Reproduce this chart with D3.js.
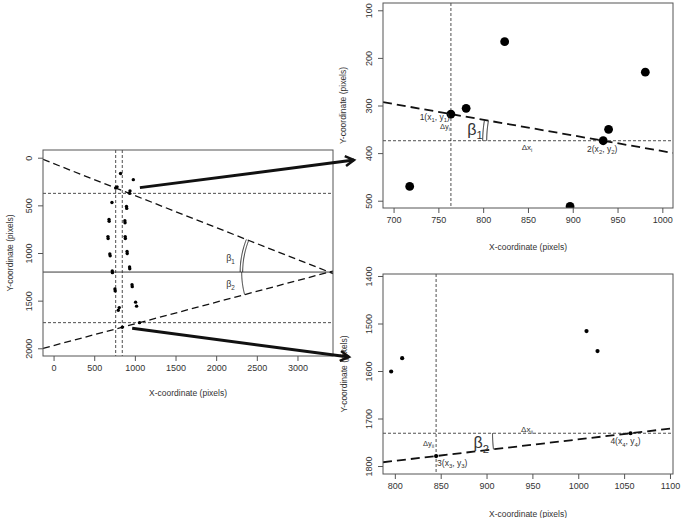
<!DOCTYPE html>
<html><head><meta charset="utf-8">
<script src="https://cdn.jsdelivr.net/npm/d3@7"></script>
<style>
body{margin:0;background:#fff}
text{font-family:"Liberation Sans",Arial,sans-serif;fill:#333}
</style>
</head><body>
<svg id="c" width="681" height="518"></svg>
<script>
// ---------- data (image pixel coordinates of detected points) ----------
const pointX = [824, 981, 764, 781, 940, 934, 718, 897, 900, 682, 684, 877, 879, 669, 671, 881, 883,
                692, 696, 904, 906, 722, 724, 935, 937, 755, 758, 965, 968, 796, 808, 1009, 1021, 845, 1057];
const pointY = [166, 230, 318, 306, 350, 374, 470, 512, 532, 648, 668, 662, 682, 828, 848, 828, 848,
                1010, 1030, 985, 1005, 1188, 1206, 1146, 1166, 1378, 1398, 1333, 1353, 1601, 1573, 1516, 1558, 1779, 1731];
// reference points 1..4 and the vanishing (apex) point
const refLabels = ["1", "2", "3", "4"];
const refX = [764, 934, 845, 1057];
const refY = [318, 374, 1779, 1731];
const apex = [3390, 1200];
const leftXTicks = [0, 500, 1000, 1500, 2000, 2500, 3000];
const leftYTicks = [0, 500, 1000, 1500, 2000];
const trXTicks = [700, 750, 800, 850, 900, 950, 1000];
const trYTicks = [100, 200, 300, 400, 500];
const brXTicks = [800, 850, 900, 950, 1000, 1050, 1100];
const brYTicks = [1400, 1500, 1600, 1700, 1800];
const xTitle = "X-coordinate (pixels)";
const yTitle = "Y-coordinate (pixels)";

const svg = d3.select("#c");
const defs = svg.append("defs");

function panel(id, box, xdom, ydom, xt, yt, titleX, titleY) {
  const x = d3.scaleLinear().domain(xdom).range([box[0], box[1]]);
  const y = d3.scaleLinear().domain(ydom).range([box[2], box[3]]);
  defs.append("clipPath").attr("id", id).append("rect")
    .attr("x", box[0]).attr("y", box[2]).attr("width", box[1]-box[0]).attr("height", box[3]-box[2]);
  const g = svg.append("g");
  const ax = g.append("g").attr("transform", `translate(0,${box[3]})`)
    .call(d3.axisBottom(x).tickValues(xt).tickSize(5).tickPadding(4).tickFormat(d3.format("d")));
  const ay = g.append("g").attr("transform", `translate(${box[0]},0)`)
    .call(d3.axisLeft(y).tickValues(yt).tickSize(5).tickPadding(3).tickFormat(d3.format("d")));
  [ax, ay].forEach(a => {
    a.select(".domain").remove();
    a.selectAll("line").attr("stroke", "#555");
    a.selectAll("text").attr("font-size", 9).style("fill", "#333");
  });
  ay.selectAll("text").attr("x", -11).attr("y", 0).attr("dy", 0)
    .attr("text-anchor", "middle").attr("transform", "rotate(-90,-11,0)");
  g.append("text").attr("x", (box[0]+box[1])/2).attr("y", titleX).attr("text-anchor", "middle")
    .attr("font-size", 8.5).text(xTitle);
  g.append("text").attr("transform", `translate(${titleY},${(box[2]+box[3])/2}) rotate(-90)`)
    .attr("text-anchor", "middle").attr("font-size", 8.5).text(yTitle);
  const inner = g.append("g").attr("clip-path", `url(#${id})`);
  g.append("rect").attr("x", box[0]).attr("y", box[2]).attr("width", box[1]-box[0]).attr("height", box[3]-box[2])
    .attr("fill", "none").attr("stroke", "#555").attr("stroke-width", 1);
  return {x, y, g, inner, box};
}

// dashed line through two data points, extended across the panel
function lineThrough(P, ax0, ay0, ax1, ay1, sel, width, dash) {
  const s = (ay1 - ay0) / (ax1 - ax0);
  const xd = P.x.domain();
  const pts = xd.map(v => [P.x(v), P.y(ay0 + s * (v - ax0))]);
  sel.append("line").attr("x1", pts[0][0]).attr("y1", pts[0][1]).attr("x2", pts[1][0]).attr("y2", pts[1][1])
    .attr("stroke", "#111").attr("stroke-width", width).attr("stroke-dasharray", dash);
}
function hline(P, v, dash, w) {
  P.inner.append("line").attr("x1", P.box[0]).attr("x2", P.box[1]).attr("y1", P.y(v)).attr("y2", P.y(v))
    .attr("stroke", "#222").attr("stroke-width", w || 0.8).attr("stroke-dasharray", dash);
}
function vline(P, v, dash) {
  P.inner.append("line").attr("y1", P.box[2]).attr("y2", P.box[3]).attr("x1", P.x(v)).attr("x2", P.x(v))
    .attr("stroke", "#222").attr("stroke-width", 0.8).attr("stroke-dasharray", dash);
}
function arc(sel, cx, cy, r, a0, a1, w) {
  const n = 30, pts = d3.range(n + 1).map(i => {
    const a = a0 + (a1 - a0) * i / n; return [cx + r * Math.cos(a), cy + r * Math.sin(a)];
  });
  sel.append("path").attr("d", d3.line()(pts)).attr("fill", "none").attr("stroke", "#222").attr("stroke-width", w || 1);
}
function subLabel(sel, x, y, parts, size, anchor) {
  // parts: [text, isSub]; restore baseline after subscript
  const t = sel.append("text").attr("x", x).attr("y", y).attr("font-size", size).attr("text-anchor", anchor || "start");
  let down = false;
  parts.forEach(p => {
    const ts = t.append("tspan").text(p[0]);
    if (p[1]) { ts.attr("font-size", size * 0.7).attr("dy", down ? 0 : size * 0.28); down = true; }
    else { ts.attr("dy", down ? -size * 0.28 : 0); down = false; }
  });
  return t;
}

// ---------- left panel ----------
const L = panel("clipL", [43, 333, 150, 356], [-130, 3437], [-81, 2081], leftXTicks, leftYTicks, 396, 13);
lineThrough(L, apex[0], apex[1], refX[0], refY[0], L.inner, 1.3, "7,4");
lineThrough(L, apex[0], apex[1], refX[2], refY[2], L.inner, 1.3, "7,4");
hline(L, apex[1], null, 0.9);
hline(L, refY[1], "3,2");
hline(L, refY[3], "3,2");
vline(L, refX[0], "3,2");
vline(L, refX[2], "3,2");
L.inner.selectAll("circle").data(pointX.map((v, i) => [v, pointY[i]])).join("circle")
  .attr("cx", d => L.x(d[0])).attr("cy", d => L.y(d[1])).attr("r", 1.7).attr("fill", "#000");
{
  const cx = L.x(apex[0]), cy = L.y(apex[1]);
  const aU = Math.atan2(L.y(refY[0]) - cy, L.x(refX[0]) - cx);
  const aD = Math.atan2(L.y(refY[2]) - cy, L.x(refX[2]) - cx);
  const aUp = aU < 0 ? aU + 2 * Math.PI : aU;
  arc(L.inner, cx, cy, 86.5, Math.PI, aUp, 0.9);
  arc(L.inner, cx, cy, 89, Math.PI, aUp, 0.9);
  arc(L.inner, cx, cy, 87.5, Math.PI, aD, 0.9);
  subLabel(L.g, cx - 103, cy - 11, [["β", 0], ["1", 1]], 9, "start");
  subLabel(L.g, cx - 103, cy + 15, [["β", 0], ["2", 1]], 9, "start");
}

// ---------- top-right panel ----------
const TR = panel("clipTR", [383, 673, 3, 208], [688.2, 1011.9], [84.7, 515.3], trXTicks, trYTicks, 250, 346);
lineThrough(TR, refX[0], refY[0], refX[1], refY[1], TR.inner, 1.8, "9,5");
hline(TR, refY[1], "3,2");
vline(TR, refX[0], "3,2");
TR.inner.selectAll("circle").data(pointX.map((v, i) => [v, pointY[i]])).join("circle")
  .attr("cx", d => TR.x(d[0])).attr("cy", d => TR.y(d[1])).attr("r", 4.4).attr("fill", "#000");
{
  const cx = TR.x(refX[1]), cy = TR.y(refY[1]);
  const a = Math.atan2(TR.y(refY[0]) - cy, TR.x(refX[0]) - cx) + 2 * Math.PI;
  arc(TR.g, cx, cy, 116.5, Math.PI, a, 1);
  arc(TR.g, cx, cy, 120.5, Math.PI, a, 1);
  const px1 = TR.x(refX[0]), py1 = TR.y(refY[0]);
  subLabel(TR.g, px1 - 1, py1 + 6, [["1(x", 0], ["1", 1], [", y", 0], ["1", 1], [")", 0]], 8.5, "end");
  subLabel(TR.g, px1 - 1, py1 + 15, [["Δy", 0], ["i", 1]], 7.5, "end");
  subLabel(TR.g, cx - 136, cy - 6, [["β", 0], ["1", 1]], 16, "start");
  subLabel(TR.g, 527, cy + 9, [["Δx", 0], ["i", 1]], 8, "middle");
  subLabel(TR.g, cx - 1, cy + 11, [["2(x", 0], ["2", 1], [", y", 0], ["2", 1], [")", 0]], 8.5, "middle");
}

// ---------- bottom-right panel ----------
const BR = panel("clipBR", [383, 673, 274, 474], [787.1, 1103.3], [1395.8, 1816.8], brXTicks, brYTicks, 517, 347);
lineThrough(BR, refX[2], refY[2], refX[3], refY[3], BR.inner, 1.8, "9,5");
hline(BR, refY[3], "3,2");
vline(BR, refX[2], "3,2");
BR.inner.selectAll("circle").data(pointX.map((v, i) => [v, pointY[i]])).join("circle")
  .attr("cx", d => BR.x(d[0])).attr("cy", d => BR.y(d[1])).attr("r", 2.1).attr("fill", "#000");
{
  const cx = BR.x(refX[3]), cy = BR.y(refY[3]);
  const a = Math.atan2(BR.y(refY[2]) - cy, BR.x(refX[2]) - cx);
  arc(BR.g, cx, cy, 138, Math.PI, a, 1);
  const px3 = BR.x(refX[2]), py3 = BR.y(refY[2]);
  subLabel(BR.g, 527, cy - 1, [["Δx", 0], ["ii", 1]], 8, "middle");
  subLabel(BR.g, px3 - 2, cy + 13, [["Δy", 0], ["ii", 1]], 7.5, "end");
  subLabel(BR.g, cx - 157, cy + 15, [["β", 0], ["2", 1]], 16, "start");
  subLabel(BR.g, cx - 5, cy + 11, [["4(x", 0], ["4", 1], [", y", 0], ["4", 1], [")", 0]], 8.5, "middle");
  subLabel(BR.g, px3 + 1, py3 + 10, [["3(x", 0], ["3", 1], [", y", 0], ["3", 1], [")", 0]], 8.5, "start");
}

// ---------- connecting arrows (left-panel data -> right-panel data) ----------
const arrowFrom = [[1062, 314], [967, 1790]];
const arrowTo = [[TR.x.invert(354), TR.y.invert(160)], [BR.x.invert(349), BR.y.invert(357)]];
[[L, TR], [L, BR]].forEach((pp, i) => {
  const x0 = pp[0].x(arrowFrom[i][0]), y0 = pp[0].y(arrowFrom[i][1]);
  const x1 = pp[1].x(arrowTo[i][0]), y1 = pp[1].y(arrowTo[i][1]);
  const ang = Math.atan2(y1 - y0, x1 - x0), hl = 10, ha = Math.PI / 6;
  svg.append("line").attr("x1", x0).attr("y1", y0).attr("x2", x1).attr("y2", y1)
    .attr("stroke", "#111").attr("stroke-width", 3);
  const hp = [[x1 - hl * Math.cos(ang - ha), y1 - hl * Math.sin(ang - ha)], [x1, y1],
              [x1 - hl * Math.cos(ang + ha), y1 - hl * Math.sin(ang + ha)]];
  svg.append("path").attr("d", d3.line()(hp)).attr("fill", "none").attr("stroke", "#111")
    .attr("stroke-width", 2.5).attr("stroke-linejoin", "miter");
});
</script>
</body></html>
